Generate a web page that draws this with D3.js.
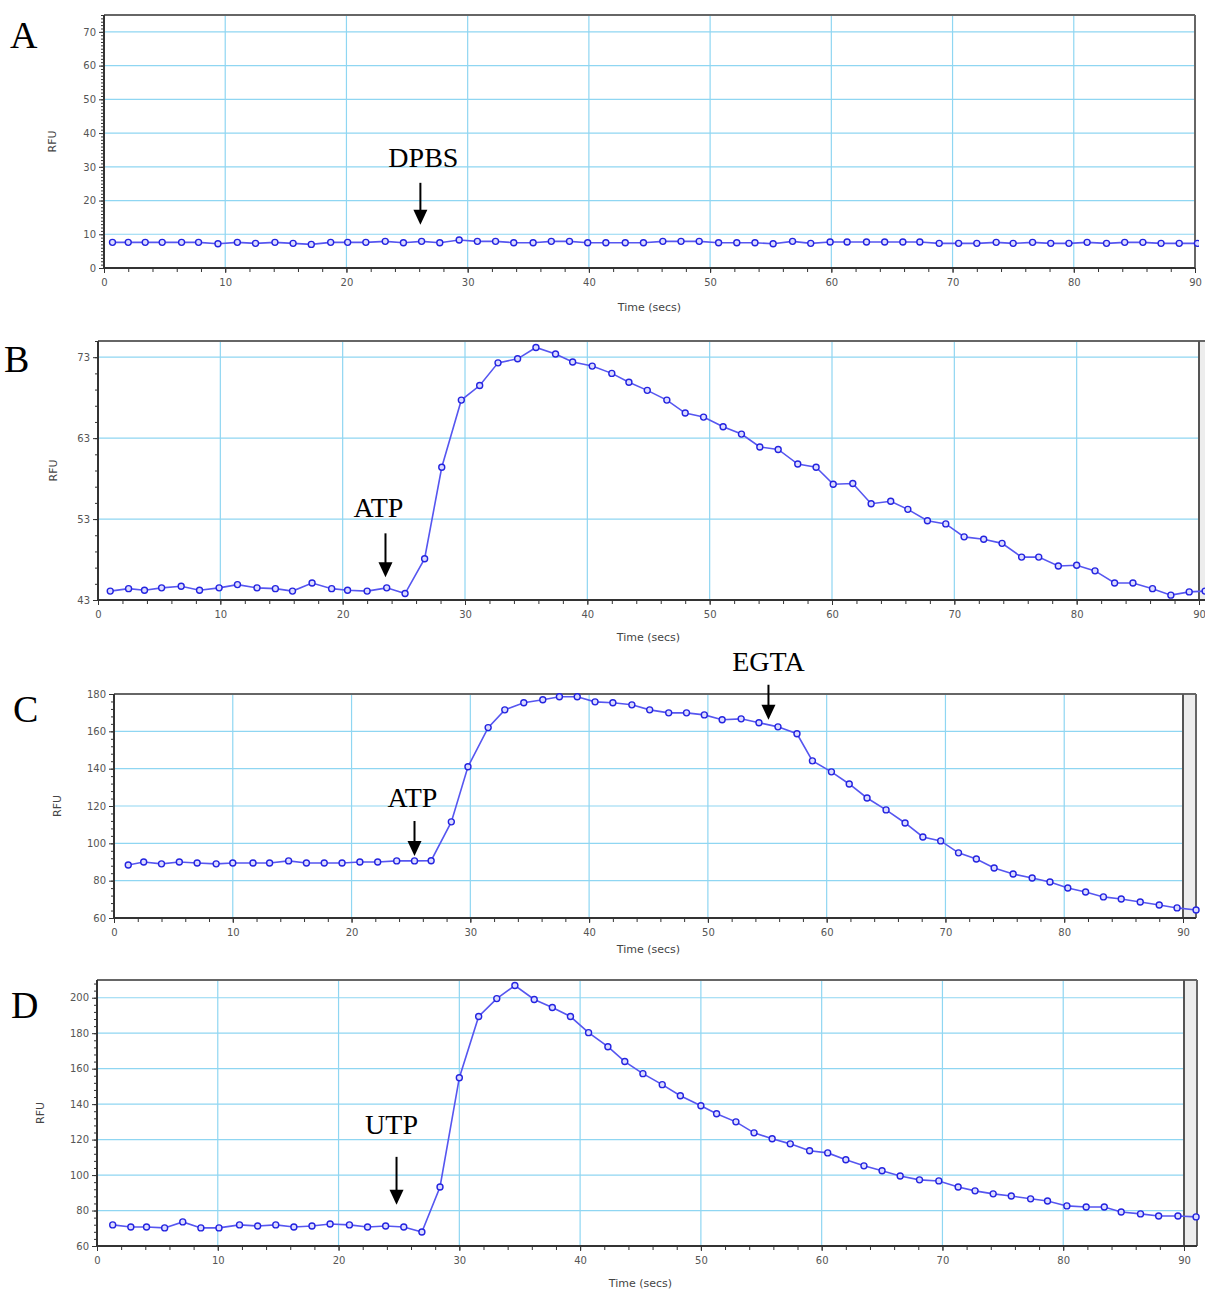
<!DOCTYPE html>
<html lang="en">
<head>
  <meta charset="UTF-8">
  <title>Calcium response traces</title>
  <script src="https://d3js.org/d3.v7.min.js"></script>
  <style>
    body { margin: 0; background: #fff; }
    .tick text { font-family: "DejaVu Sans", Verdana, sans-serif; font-size: 10px; fill: #555; }
    .axis-title { font-family: "DejaVu Sans", Verdana, sans-serif; font-size: 11px; fill: #444; }
    .panel-letter { font-family: "Liberation Serif", "DejaVu Serif", serif; font-size: 38px; fill: #000; }
    .note { font-family: "Liberation Serif", "DejaVu Serif", serif; font-size: 28px; fill: #000; }
  </style>
</head>
<body>
  <svg width="1205" height="1291"></svg>

  <script>
    // ---- data (time in secs, RFU) ----
    const timeA = [0.7, 2.0, 3.4, 4.8, 6.4, 7.8, 9.4, 11.0, 12.5, 14.1, 15.6, 17.1, 18.7, 20.1, 21.6, 23.2,
      24.7, 26.2, 27.7, 29.3, 30.8, 32.3, 33.8, 35.4, 36.9, 38.4, 39.9, 41.4, 43.0, 44.5, 46.1, 47.6, 49.1,
      50.7, 52.2, 53.7, 55.2, 56.8, 58.3, 59.9, 61.3, 62.9, 64.4, 65.9, 67.3, 68.9, 70.5, 72.0, 73.6, 75.0,
      76.6, 78.1, 79.6, 81.1, 82.7, 84.2, 85.7, 87.2, 88.7, 90.2];
    const rfuA = [7.6, 7.6, 7.6, 7.6, 7.6, 7.6, 7.2, 7.6, 7.3, 7.6, 7.3, 7.0, 7.6, 7.6, 7.6, 7.9,
      7.5, 7.9, 7.5, 8.3, 7.9, 7.9, 7.5, 7.5, 7.9, 7.9, 7.5, 7.5, 7.5, 7.5, 7.9, 7.9, 7.9,
      7.5, 7.5, 7.5, 7.2, 7.9, 7.3, 7.7, 7.7, 7.7, 7.7, 7.7, 7.7, 7.3, 7.3, 7.3, 7.6, 7.3,
      7.6, 7.3, 7.3, 7.6, 7.3, 7.6, 7.6, 7.3, 7.3, 7.3];

    const timeB = [1.0, 2.5, 3.8, 5.2, 6.8, 8.3, 9.9, 11.4, 13.0, 14.5, 15.9, 17.5, 19.1, 20.4, 22.0, 23.6,
      25.1, 26.7, 28.1, 29.7, 31.2, 32.7, 34.3, 35.8, 37.4, 38.8, 40.4, 42.0, 43.4, 44.9, 46.5, 48.0, 49.5,
      51.1, 52.6, 54.1, 55.6, 57.2, 58.7, 60.1, 61.7, 63.2, 64.8, 66.2, 67.8, 69.3, 70.8, 72.4, 73.9, 75.5,
      76.9, 78.5, 80.0, 81.5, 83.1, 84.6, 86.2, 87.7, 89.2, 90.5];
    const rfuB = [44.1, 44.4, 44.2, 44.5, 44.7, 44.2, 44.5, 44.9, 44.5, 44.4, 44.1, 45.1, 44.4, 44.2, 44.1, 44.5,
      43.8, 48.1, 59.4, 67.7, 69.5, 72.3, 72.8, 74.2, 73.4, 72.4, 71.9, 71.0, 69.9, 68.9, 67.7, 66.1, 65.6,
      64.4, 63.5, 61.9, 61.6, 59.8, 59.4, 57.3, 57.4, 54.9, 55.2, 54.2, 52.8, 52.4, 50.8, 50.5, 50.0, 48.3,
      48.3, 47.2, 47.3, 46.6, 45.1, 45.1, 44.4, 43.6, 44.0, 44.1];

    const timeC = [1.2, 2.5, 4.0, 5.5, 7.0, 8.6, 10.0, 11.7, 13.1, 14.7, 16.2, 17.7, 19.2, 20.7, 22.2, 23.8,
      25.3, 26.7, 28.4, 29.8, 31.5, 32.9, 34.5, 36.1, 37.5, 39.0, 40.5, 42.0, 43.6, 45.1, 46.7, 48.2, 49.7,
      51.2, 52.8, 54.3, 55.9, 57.5, 58.8, 60.4, 61.9, 63.4, 65.0, 66.6, 68.1, 69.6, 71.1, 72.6, 74.1, 75.7,
      77.3, 78.8, 80.3, 81.8, 83.3, 84.8, 86.4, 88.0, 89.5, 91.1];
    const rfuC = [88.4, 90.0, 89.0, 90.0, 89.5, 89.0, 89.5, 89.5, 89.5, 90.6, 89.5, 89.5, 89.5, 90.0, 90.0, 90.6,
      90.6, 90.7, 111.5, 141.0, 162.0, 171.5, 175.3, 176.9, 178.5, 178.5, 175.8, 175.3, 174.2, 171.5, 169.9, 169.9, 168.8,
      166.2, 166.7, 164.6, 162.4, 158.7, 144.2, 138.3, 131.8, 124.3, 117.9, 110.9, 103.4, 101.3, 94.9, 91.6, 86.8, 83.6,
      81.4, 79.3, 76.1, 73.9, 71.3, 70.2, 68.6, 67.0, 65.4, 64.3];

    const timeD = [1.3, 2.8, 4.1, 5.6, 7.1, 8.6, 10.1, 11.8, 13.3, 14.8, 16.3, 17.8, 19.3, 20.9, 22.4, 23.9,
      25.4, 26.9, 28.4, 30.0, 31.6, 33.1, 34.6, 36.2, 37.7, 39.2, 40.7, 42.3, 43.7, 45.2, 46.8, 48.3, 50.0,
      51.3, 52.9, 54.4, 55.9, 57.4, 59.0, 60.5, 62.0, 63.5, 65.0, 66.5, 68.1, 69.7, 71.3, 72.7, 74.2, 75.7,
      77.3, 78.7, 80.3, 81.9, 83.4, 84.8, 86.4, 87.9, 89.5, 91.0];
    const rfuD = [71.9, 70.7, 70.7, 70.2, 73.6, 70.2, 70.2, 71.9, 71.3, 71.9, 70.7, 71.3, 72.4, 71.9, 70.7, 71.3,
      70.7, 67.9, 93.3, 154.9, 189.4, 199.5, 206.9, 199.0, 194.5, 189.4, 180.3, 172.4, 164.0, 157.2, 151.0, 144.7, 139.1,
      134.6, 130.0, 123.8, 120.5, 117.6, 113.7, 112.5, 108.6, 105.2, 102.4, 99.5, 97.3, 96.7, 93.3, 91.1, 89.4, 88.2,
      86.6, 85.4, 82.6, 82.0, 82.0, 79.2, 78.1, 76.9, 76.9, 76.4];

    const yTicksA = [0, 10, 20, 30, 40, 50, 60, 70];
    const yTicksB = [43, 53, 63, 73];
    const yTicksC = [60, 80, 100, 120, 140, 160, 180];
    const yTicksD = [60, 80, 100, 120, 140, 160, 180, 200];
    const xTicks = [0, 10, 20, 30, 40, 50, 60, 70, 80, 90];

    // stimulus labels: [text, time, RFU at arrow tip]
    const notesA = [["DPBS", 26.1, 12.8]];
    const notesB = [["ATP", 23.5, 45.8]];
    const notesC = [["ATP", 25.3, 93.2], ["EGTA", 55.1, 166.2]];
    const notesD = [["UTP", 24.8, 83.2]];

    const svg = d3.select("svg");

    // panel layout in pixels
    const panels = [
      { letter: "A", t: timeA, v: rfuA, yDom: [0, 75], yTicks: yTicksA, yMinor: 1, notes: notesA,
        left: 104, x90: 1195, right: 1195, top: 15, bottom: 268, band: false,
        letterPos: [10, 48], rfuX: 52, timeY: 311, arrowLen: 42, textGap: 16, textDx: 3 },
      { letter: "B", t: timeB, v: rfuB, yDom: [43, 75], yTicks: yTicksB, yMinor: 2, notes: notesB,
        left: 98, x90: 1199, right: 1215, top: 341, bottom: 600, band: true,
        letterPos: [4, 372], rfuX: 53, timeY: 641, arrowLen: 44, textGap: 16, textDx: -7 },
      { letter: "C", t: timeC, v: rfuC, yDom: [60, 180], yTicks: yTicksC, yMinor: 4, notes: notesC,
        left: 114, x90: 1183, right: 1196, top: 694, bottom: 918, band: true,
        letterPos: [13, 722], rfuX: 57, timeY: 953, arrowLen: 35, textGap: 14, textDx: -2 },
      { letter: "D", t: timeD, v: rfuD, yDom: [60, 210], yTicks: yTicksD, yMinor: 4, notes: notesD,
        left: 97, x90: 1184, right: 1197, top: 980, bottom: 1246, band: true,
        letterPos: [11, 1018], rfuX: 40, timeY: 1287, arrowLen: 48, textGap: 23, textDx: -5 }
    ];

    panels.forEach((p, i) => drawPanel(p, i));

    function drawPanel(p, i) {
      const x = d3.scaleLinear().domain([0, 90]).range([p.left, p.x90]);
      const y = d3.scaleLinear().domain(p.yDom).range([p.bottom, p.top]);
      const g = svg.append("g");

      // grey strip past 90 s
      if (p.band) {
        g.append("rect")
          .attr("x", x(90)).attr("y", p.top)
          .attr("width", p.right - x(90)).attr("height", p.bottom - p.top)
          .attr("fill", "#ededed");
      }

      // grid
      g.append("g").selectAll("line").data(xTicks.slice(1, 9)).join("line")
        .attr("x1", d => x(d)).attr("x2", d => x(d))
        .attr("y1", p.top).attr("y2", p.bottom)
        .attr("stroke", "#8fd6f2").attr("stroke-width", 1.2);
      g.append("g").selectAll("line").data(p.yTicks.filter(d => d > p.yDom[0])).join("line")
        .attr("x1", p.left).attr("x2", p.band ? x(90) : p.right)
        .attr("y1", d => y(d)).attr("y2", d => y(d))
        .attr("stroke", "#8fd6f2").attr("stroke-width", 1.2);

      // frame
      g.append("line").attr("x1", p.left).attr("x2", p.right).attr("y1", p.top).attr("y2", p.top)
        .attr("stroke", "#666").attr("stroke-width", 2);
      g.append("line").attr("x1", p.right).attr("x2", p.right).attr("y1", p.top).attr("y2", p.bottom)
        .attr("stroke", "#666").attr("stroke-width", 2);
      if (p.band) {
        g.append("line").attr("x1", x(90)).attr("x2", x(90)).attr("y1", p.top).attr("y2", p.bottom)
          .attr("stroke", "#555").attr("stroke-width", 2);
      }

      // axes
      const xMinor = d3.range(0, 91, 2);
      g.append("g").attr("transform", `translate(0,${p.bottom})`)
        .call(d3.axisBottom(x).tickValues(xMinor).tickSize(4).tickFormat(""))
        .call(a => a.select(".domain").remove())
        .call(a => a.selectAll("line").attr("stroke", "#333"));
      g.append("g").attr("transform", `translate(0,${p.bottom})`)
        .call(d3.axisBottom(x).tickValues(xTicks).tickSize(5).tickPadding(6).tickFormat(d3.format("d")))
        .call(a => a.select(".domain").attr("stroke", "#333").attr("stroke-width", 2)
          .attr("d", `M${p.left},0H${p.right}`))
        .call(a => a.selectAll("line").attr("stroke", "#333"));

      const yMinor = d3.range(p.yDom[0], p.yDom[1] + 0.01, p.yMinor);
      g.append("g").attr("transform", `translate(${p.left},0)`)
        .call(d3.axisLeft(y).tickValues(yMinor).tickSize(3).tickFormat(""))
        .call(a => a.select(".domain").remove())
        .call(a => a.selectAll("line").attr("stroke", "#333"));
      g.append("g").attr("transform", `translate(${p.left},0)`)
        .call(d3.axisLeft(y).tickValues(p.yTicks).tickSize(5).tickPadding(3).tickFormat(d3.format("d")))
        .call(a => a.select(".domain").attr("stroke", "#333").attr("stroke-width", 2)
          .attr("d", `M0,${p.top}V${p.bottom}`))
        .call(a => a.selectAll("line").attr("stroke", "#333"));

      // axis titles
      g.append("text").attr("class", "axis-title")
        .attr("x", (p.left + p.x90) / 2).attr("y", p.timeY)
        .attr("text-anchor", "middle").text("Time (secs)");
      g.append("text").attr("class", "axis-title")
        .attr("transform", `translate(${p.rfuX + 4},${(p.top + p.bottom) / 2}) rotate(-90)`)
        .attr("text-anchor", "middle").text("RFU");

      // trace
      const clipId = "clip" + i;
      svg.append("clipPath").attr("id", clipId).append("rect")
        .attr("x", p.left).attr("y", p.top - 4)
        .attr("width", p.right - p.left + 4).attr("height", p.bottom - p.top + 4);

      const pts = p.t.map((t, k) => [t, p.v[k]]);
      const trace = g.append("g").attr("clip-path", `url(#${clipId})`);
      trace.append("path").datum(pts)
        .attr("fill", "none").attr("stroke", "#5656f0").attr("stroke-width", 1.6)
        .attr("d", d3.line().x(d => x(d[0])).y(d => y(d[1])));
      trace.selectAll("circle").data(pts).join("circle")
        .attr("cx", d => x(d[0])).attr("cy", d => y(d[1])).attr("r", 3)
        .attr("fill", "#dcdcff").attr("stroke", "#2424e0").attr("stroke-width", 1.4);

      // stimulus arrows with their label above
      p.notes.forEach(n => {
        const ax = x(n[1]), tip = y(n[2]), start = tip - p.arrowLen;
        g.append("line").attr("x1", ax).attr("x2", ax).attr("y1", start).attr("y2", tip - 12)
          .attr("stroke", "#000").attr("stroke-width", 2);
        g.append("path").attr("d", `M${ax - 7},${tip - 15}L${ax + 7},${tip - 15}L${ax},${tip}Z`).attr("fill", "#000");
        g.append("text").attr("class", "note")
          .attr("x", ax + (n[0] === "EGTA" ? 0 : p.textDx)).attr("y", start - p.textGap)
          .attr("text-anchor", "middle").text(n[0]);
      });

      // panel letter
      svg.append("text").attr("class", "panel-letter")
        .attr("x", p.letterPos[0]).attr("y", p.letterPos[1]).text(p.letter);
    }
  </script>
</body>
</html>
